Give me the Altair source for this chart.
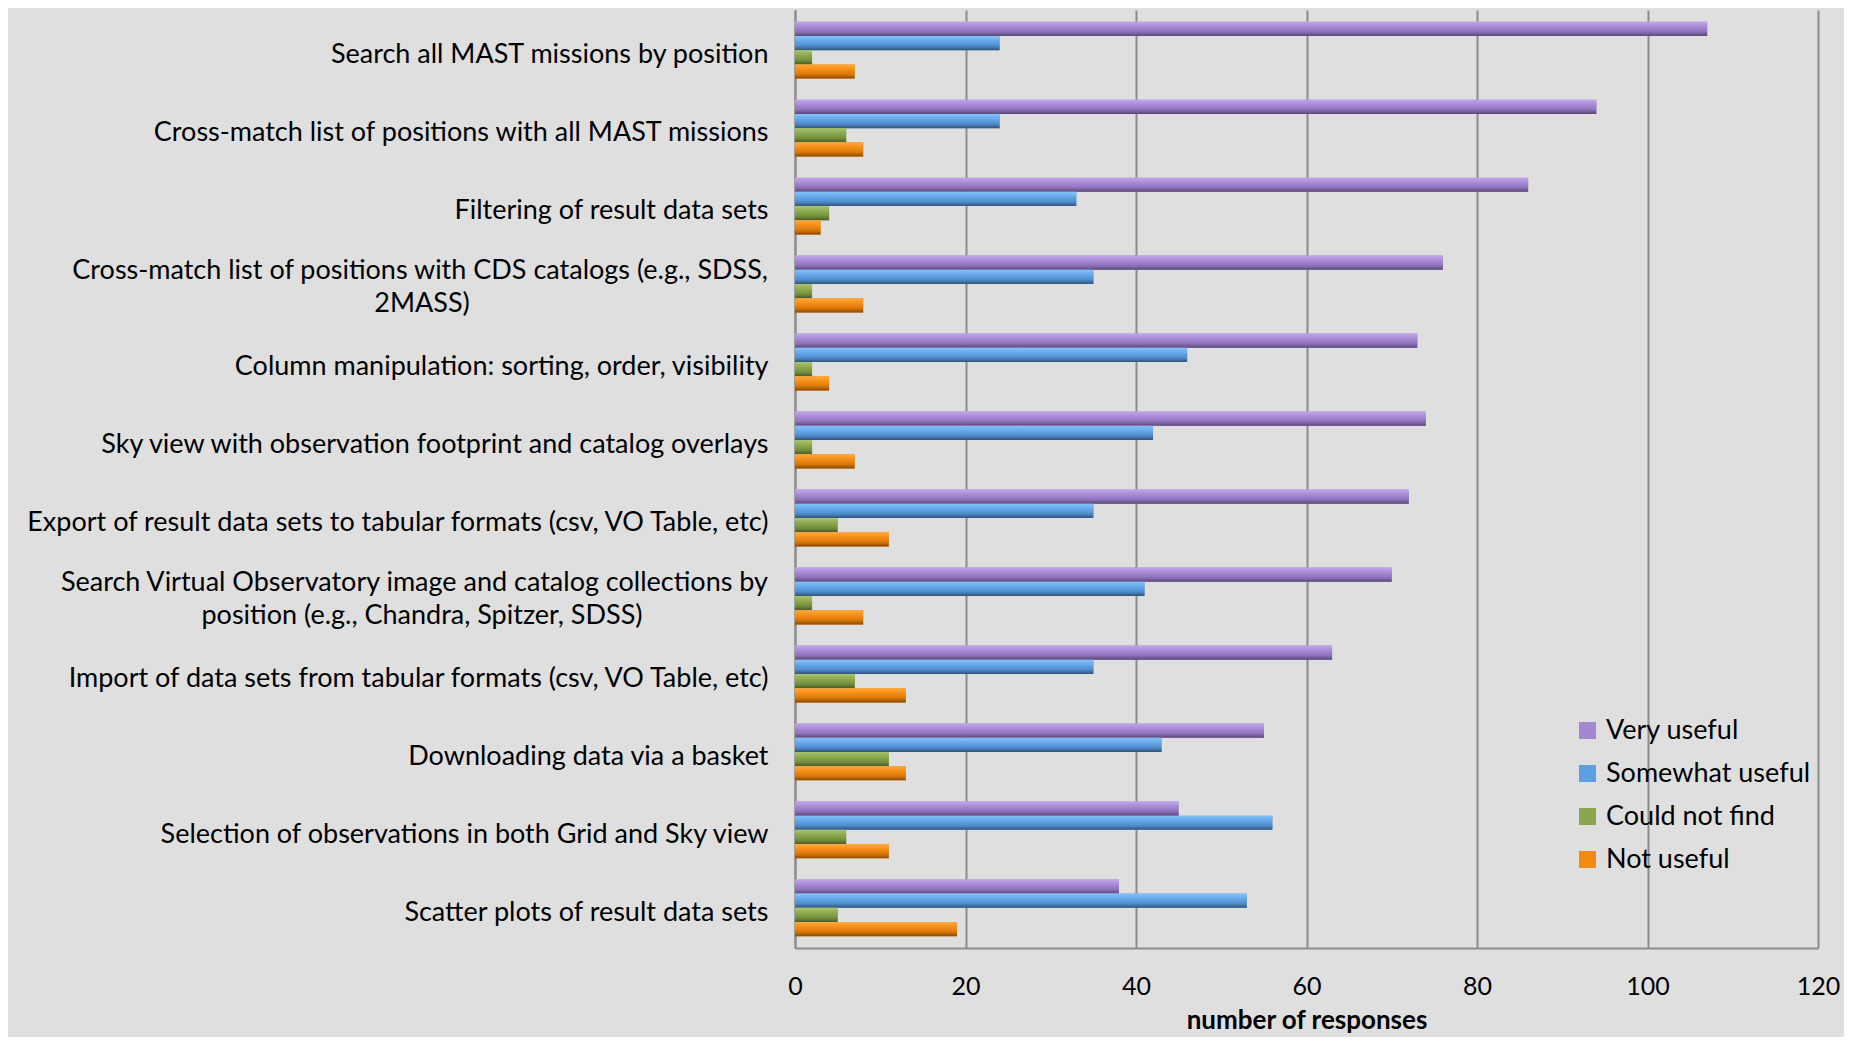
import altair as alt
import pandas as pd

categories = [
    "Search all MAST missions by position",
    "Cross-match list of positions with all MAST missions",
    "Filtering of result data sets",
    "Cross-match list of positions with CDS catalogs (e.g., SDSS,\n2MASS)",
    "Column manipulation: sorting, order, visibility",
    "Sky view with observation footprint and catalog overlays",
    "Export of result data sets to tabular formats (csv, VO Table, etc)",
    "Search Virtual Observatory image and catalog collections by\nposition (e.g., Chandra, Spitzer, SDSS)",
    "Import of data sets from tabular formats (csv, VO Table, etc)",
    "Downloading data via a basket",
    "Selection of observations in both Grid and Sky view",
    "Scatter plots of result data sets",
]
series = ["Very useful", "Somewhat useful", "Could not find", "Not useful"]
very_useful = [107, 94, 86, 76, 73, 74, 72, 70, 63, 55, 45, 38]
somewhat_useful = [24, 24, 33, 35, 46, 42, 35, 41, 35, 43, 56, 53]
could_not_find = [2, 6, 4, 2, 2, 2, 5, 2, 7, 11, 6, 5]
not_useful = [7, 8, 3, 8, 4, 7, 11, 8, 13, 13, 11, 19]
x_ticks = [0, 20, 40, 60, 80, 100, 120]

colors = ["#a486d2", "#5d9fe2", "#8ba64c", "#f28a10"]
grads = [
    ["#c3a6ec", "#a98ad6", "#8f72bb", "#5a4878"],
    ["#86c2fa", "#65a8ea", "#4f8ccc", "#2f5478"],
    ["#aac56a", "#8eaa50", "#74903c", "#4a5c26"],
    ["#ffaa40", "#f68e16", "#d8780a", "#8a4800"],
]

values = [very_useful, somewhat_useful, could_not_find, not_useful]
rows = []
for s, vals in zip(series, values):
    for c, v in zip(categories, vals):
        rows.append({"feature": c, "rating": s, "count": v})
df = pd.DataFrame(rows)

wrapped = pd.DataFrame(
    [
        {"feature": c, "line1": c.split("\n")[0], "line2": c.split("\n")[1]}
        for c in categories
        if "\n" in c
    ]
)

font = "Lato"
label_size = 27
# wrapped labels are drawn by the text layers below
label_expr = "indexof(datum.label, '\\n') >= 0 ? '' : datum.label"

y_enc = alt.Y(
    "feature:N",
    sort=categories,
    scale=alt.Scale(paddingInner=0.27, paddingOuter=0.15),
    axis=alt.Axis(
        title=None,
        labelExpr=label_expr,
        labelFont=font,
        labelFontSize=label_size,
        labelColor="#000000",
        labelLimit=900,
        labelPadding=27,
        labelOffset=5,
        ticks=False,
        domainColor="#8c8c8c",
        domainWidth=2,
        grid=False,
    ),
)
x_enc = alt.X(
    "count:Q",
    scale=alt.Scale(domain=[0, 120], nice=False),
    axis=alt.Axis(
        values=x_ticks,
        title="number of responses",
        titleFont=font,
        titleFontSize=26,
        titleFontWeight="bold",
        titleColor="#000000",
        titlePadding=8,
        labelFont=font,
        labelFontSize=25,
        labelColor="#000000",
        labelPadding=26,
        labelFlush=False,
        ticks=False,
        domainColor="#8c8c8c",
        domainWidth=2,
        grid=True,
        gridColor="#8c8c8c",
        gridWidth=2,
    ),
)
yoff = alt.YOffset("rating:N", sort=series, scale=alt.Scale(domain=series, paddingInner=0, paddingOuter=0))

base = alt.Chart(df).mark_bar().encode(
    x=x_enc,
    y=y_enc,
    yOffset=yoff,
    color=alt.Color(
        "rating:N",
        sort=series,
        scale=alt.Scale(domain=series, range=colors),
        legend=alt.Legend(
            title=None,
            orient="none",
            legendX=779,
            legendY=707,
            symbolType="square",
            symbolSize=290,
            symbolStrokeWidth=0,
            labelFont=font,
            labelFontSize=label_size,
            labelColor="#000000",
            labelLimit=500,
            labelOffset=5,
            rowPadding=15,
        ),
    ),
)

overlays = []
for s, g in zip(series, grads):
    grad = alt.Gradient(
        gradient="linear",
        x1=0, x2=0, y1=0, y2=1,
        stops=[
            alt.GradientStop(color=g[0], offset=0),
            alt.GradientStop(color=g[1], offset=0.35),
            alt.GradientStop(color=g[2], offset=0.7),
            alt.GradientStop(color=g[3], offset=1),
        ],
    )
    overlays.append(
        alt.Chart(df).transform_filter(alt.datum.rating == s).mark_bar(color=grad).encode(
            x=alt.X("count:Q"), y=alt.Y("feature:N", sort=categories), yOffset=alt.YOffset("rating:N", sort=series)
        )
    )

first_lines = alt.Chart(wrapped).mark_text(
    align="right", baseline="middle", dy=-13, font=font, fontSize=label_size, color="#000000"
).encode(
    y=alt.Y("feature:N", sort=categories),
    x=alt.value(-27),
    text="line1:N",
)
second_lines = alt.Chart(wrapped).mark_text(
    align="center", baseline="middle", dy=20, font=font, fontSize=label_size, color="#000000"
).encode(
    y=alt.Y("feature:N", sort=categories),
    x=alt.value(-373),
    text="line2:N",
)

chart = alt.layer(base, *overlays, first_lines, second_lines).properties(
    width=1023,
    height=938,
    autosize=alt.AutoSizeParams(type="none"),
    padding={"left": 787, "top": 2, "right": 26, "bottom": 89},
    background="#dfdfdf",
).configure_view(stroke=None)

chart.save("out.html", embed_options={"renderer": "svg", "actions": False})
